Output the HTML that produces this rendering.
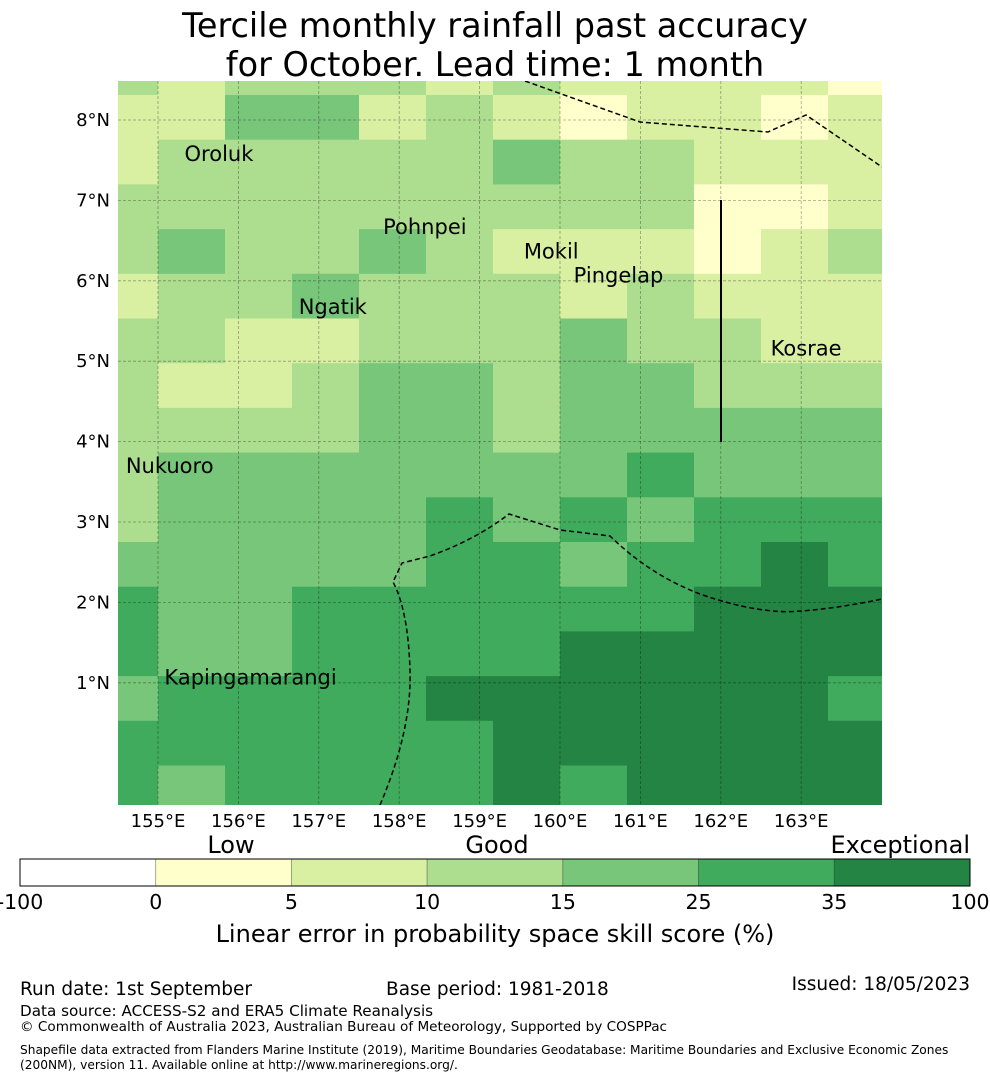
<!DOCTYPE html>
<html><head><meta charset="utf-8"><style>
body{margin:0;background:#fff;width:990px;height:1080px;overflow:hidden;font-family:"DejaVu Sans","Liberation Sans",sans-serif}
svg text{font-family:"DejaVu Sans","Liberation Sans",sans-serif}
</style></head><body>
<svg id="chart" width="990" height="1080" xmlns="http://www.w3.org/2000/svg">
<text x="495" y="37" font-size="33.5" text-anchor="middle">Tercile monthly rainfall past accuracy</text>
<text x="495" y="76" font-size="33.5" text-anchor="middle">for October. Lead time: 1 month</text>
<defs><clipPath id="mapclip"><rect x="118" y="81" width="764" height="724"/></clipPath></defs>
<g id="cells" clip-path="url(#mapclip)"></g>
<g id="grid" clip-path="url(#mapclip)"></g>
<g id="bounds" clip-path="url(#mapclip)" fill="none" stroke="#000" stroke-width="1.5">
<path stroke-dasharray="5,3" d="M525,81 L640,122 L768,132 L806,115 L882,167"/>
<path stroke-dasharray="5,3" d="M380,805 Q412,730 410,670 Q408,610 393,582 L402,563 L430,556 Q475,540 509,514 L560,530 L610,536 Q650,575 700,594 Q760,615 801,611 Q840,608 882,599"/>
<path stroke-width="2" d="M721,200 L721,442"/>
</g>
<g id="labels" font-size="21"></g>
<g id="axes" font-size="18"></g>
<g id="cbar"></g>
<text x="231" y="853" font-size="24" text-anchor="middle">Low</text>
<text x="497" y="853" font-size="24" text-anchor="middle">Good</text>
<text x="970" y="853" font-size="24" text-anchor="end">Exceptional</text>
<text x="495" y="942" font-size="24" text-anchor="middle">Linear error in probability space skill score (%)</text>
<text x="20" y="995" font-size="18.5">Run date: 1st September</text>
<text x="386" y="995" font-size="18.5">Base period: 1981-2018</text>
<text x="970" y="990" font-size="18.5" text-anchor="end">Issued: 18/05/2023</text>
<text x="20" y="1016" font-size="15.2">Data source: ACCESS-S2 and ERA5 Climate Reanalysis</text>
<text x="20" y="1031" font-size="13.6">© Commonwealth of Australia 2023, Australian Bureau of Meteorology, Supported by COSPPac</text>
<text x="20" y="1054" font-size="12.2">Shapefile data extracted from Flanders Marine Institute (2019), Maritime Boundaries Geodatabase: Maritime Boundaries and Exclusive Economic Zones</text>
<text x="20" y="1069" font-size="12.2">(200NM), version 11. Available online at http://www.marineregions.org/.</text>
</svg>
<script>
const NS="http://www.w3.org/2000/svg";
// category index per cell, rows north→south, cols west→east
const gridRows=[
"212221211110",
"113312101101",
"122222322111",
"222222222001",
"232232111012",
"122322212111",
"221122232211",
"211233233222",
"222233233333",
"233333334333",
"233334343444",
"333334434454",
"433444444555",
"433444455555",
"344445555554",
"444444555555",
"434444545555"];
const colors=["#ffffcc","#d9f0a3","#addd8e","#78c679","#41ab5d","#238443"];
const lonTicks=[155,156,157,158,159,160,161,162,163];
const latTicks=[1,2,3,4,5,6,7,8];
const cbarTicks=["-100","0","5","10","15","25","35","100"];
const cbarColors=["#ffffff","#ffffcc","#d9f0a3","#addd8e","#78c679","#41ab5d","#238443"];
const islands=[["Oroluk",155.33,7.49],["Pohnpei",157.8,6.58],["Mokil",159.55,6.28],["Pingelap",160.17,5.98],["Ngatik",156.75,5.59],["Kosrae",162.62,5.07],["Nukuoro",154.6,3.61],["Kapingamarangi",155.08,0.98]];
const PX=80.4;
const xOf=lon=>158+(lon-155)*PX;
const yOf=lat=>120+(8-lat)*PX;
const dLon=67/PX, dLat=44.7/PX;
const lon0=155-dLon, lat0=8+ (120-95)/PX + dLat;
const cells=document.getElementById('cells');
gridRows.forEach((row,r)=>{[...row].forEach((ch,c)=>{
 const x0=xOf(lon0+c*dLon), x1=xOf(lon0+(c+1)*dLon);
 const y0=yOf(lat0-r*dLat), y1=yOf(lat0-(r+1)*dLat);
 const el=document.createElementNS(NS,'rect');
 
 
 el.setAttribute('x',x0);el.setAttribute('y',y0);
 el.setAttribute('width',x1-x0+0.5);el.setAttribute('height',y1-y0+0.5);
 el.setAttribute('fill',colors[+ch]);
 cells.appendChild(el);});});
const grid=document.getElementById('grid'), axes=document.getElementById('axes');
lonTicks.forEach(l=>{
 const g=document.createElementNS(NS,'line');
 
 
 g.setAttribute('x1',xOf(l));g.setAttribute('x2',xOf(l));g.setAttribute('y1',81);g.setAttribute('y2',805);
 g.setAttribute('stroke','rgba(0,0,0,0.35)');g.setAttribute('stroke-dasharray','3,2');g.setAttribute('stroke-width','0.8');
 grid.appendChild(g);
 const t=document.createElementNS(NS,'text');
 
 
 t.setAttribute('x',xOf(l));t.setAttribute('y',827);t.setAttribute('text-anchor','middle');
 t.textContent=l+"°E";axes.appendChild(t);});
latTicks.forEach(l=>{
 const g=document.createElementNS(NS,'line');
 
 
 g.setAttribute('y1',yOf(l));g.setAttribute('y2',yOf(l));g.setAttribute('x1',118);g.setAttribute('x2',882);
 g.setAttribute('stroke','rgba(0,0,0,0.35)');g.setAttribute('stroke-dasharray','3,2');g.setAttribute('stroke-width','0.8');
 grid.appendChild(g);
 const t=document.createElementNS(NS,'text');
 
 
 t.setAttribute('x',110);t.setAttribute('y',yOf(l)+6);t.setAttribute('text-anchor','end');
 t.textContent=l+"°N";axes.appendChild(t);});
const labels=document.getElementById('labels');
islands.forEach(([n,lo,la])=>{
 const t=document.createElementNS(NS,'text');
 
 
 t.setAttribute('x',xOf(lo));t.setAttribute('y',yOf(la));
 t.textContent=n;labels.appendChild(t);});
const cb=document.getElementById('cbar');
const cbX=20,cbW=950,cbY=859,cbH=27,seg=cbW/cbarColors.length;
cbarColors.forEach((c,i)=>{
 const r=document.createElementNS(NS,'rect');
 
 
 r.setAttribute('x',cbX+i*seg);r.setAttribute('y',cbY);r.setAttribute('width',seg);r.setAttribute('height',cbH);
 r.setAttribute('fill',c);r.setAttribute('stroke','rgba(0,0,0,0.3)');r.setAttribute('stroke-width','0.8');
 cb.appendChild(r);});
const fr=document.createElementNS(NS,'rect');


fr.setAttribute('x',cbX);fr.setAttribute('y',cbY);fr.setAttribute('width',cbW);fr.setAttribute('height',cbH);
fr.setAttribute('fill','none');fr.setAttribute('stroke','#000');fr.setAttribute('stroke-width','1');
cb.appendChild(fr);
cbarTicks.forEach((v,i)=>{
 const t=document.createElementNS(NS,'text');
 
 
 t.setAttribute('x',cbX+i*seg);t.setAttribute('y',909);t.setAttribute('text-anchor','middle');t.setAttribute('font-size','20.5');
 t.textContent=v;cb.appendChild(t);});
</script>
</body></html>
